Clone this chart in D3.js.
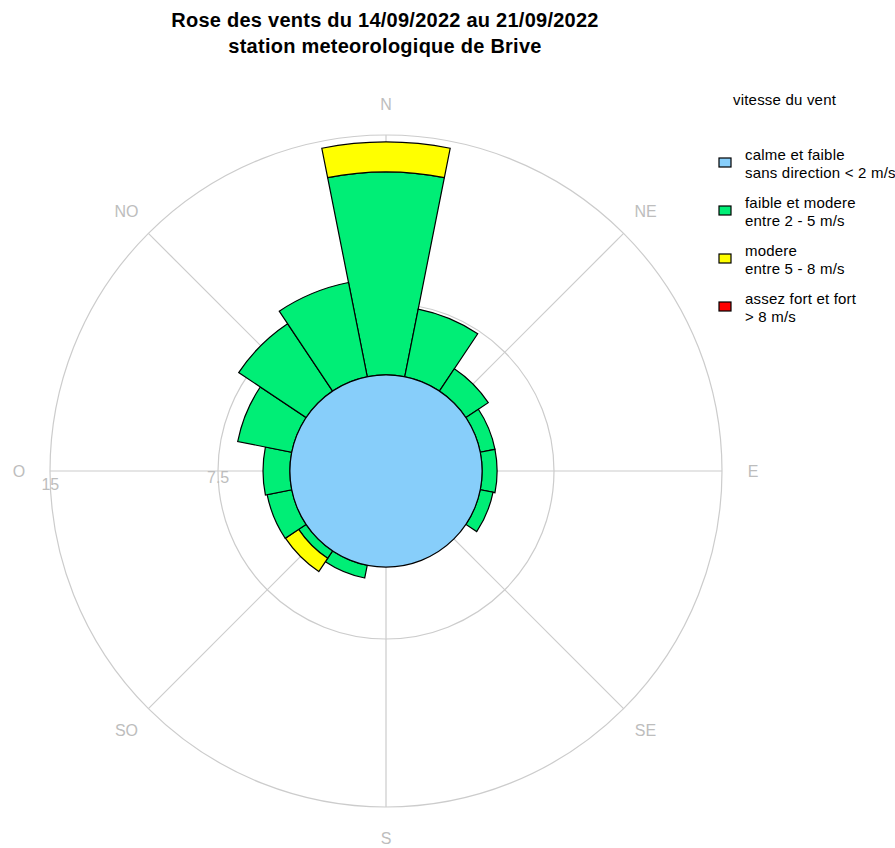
<!DOCTYPE html>
<html>
<head>
<meta charset="utf-8">
<script src="https://cdn.jsdelivr.net/npm/d3@7"></script>
<style>
  html, body { margin: 0; padding: 0; background: #fff; }
  svg { display: block; font-family: "Liberation Sans", Arial, sans-serif; }
</style>
</head>
<body>
<svg id="chart" width="895" height="848"></svg>
<script>
// ---- data (percent of observations) ----
const directions = ["N","NNE","NE","ENE","E","ESE","SE","SSE","S","SSW","SW","WSW","W","WNW","NW","NNW"];
const calmValue = 4.29;
const greenValues  = [9.06, 3.08, 1.20, 0.67, 0.67, 0.58, 0, 0, 0, 0.58, 0.40, 1.12, 1.20, 2.46, 3.62, 4.29];
const yellowValues = [1.34, 0, 0, 0, 0, 0, 0, 0, 0, 0, 0.71, 0, 0, 0, 0, 0];
const redValues    = [0, 0, 0, 0, 0, 0, 0, 0, 0, 0, 0, 0, 0, 0, 0, 0];
const gridTicks = [7.5, 15];
const gridTickLabels = ["7.5", "15"];
const compassLabels = ["N","NE","E","SE","S","SO","O","NO"];
const titleLines = ["Rose des vents du 14/09/2022 au 21/09/2022", "station meteorologique de Brive"];
const legendTitle = "vitesse du vent";
const legendLabels = [
  ["calme et faible", "sans direction < 2 m/s"],
  ["faible et modere", "entre 2 - 5 m/s"],
  ["modere", "entre 5 - 8 m/s"],
  ["assez fort et fort", "> 8 m/s"]
];
const classColors = ["#87CEFA", "#00EE76", "#FFFF00", "#FF0000"];

// ---- layout ----
const svg = d3.select("#chart");
const cx = 386, cy = 471;
const rScale = d3.scaleLinear().domain([0, 15]).range([0, 336]);
const gridColor = "#cccccc";
const labelColor = "#bdbdbd";
const g = svg.append("g").attr("transform", `translate(${cx},${cy})`);

// title
svg.append("g").selectAll("text").data(titleLines).join("text")
  .attr("x", 385).attr("y", (d, i) => 27 + i * 26)
  .attr("text-anchor", "middle")
  .attr("font-size", 20).attr("font-weight", "bold").attr("fill", "#000")
  .attr("letter-spacing", 0.25)
  .text(d => d);

// grid circles
g.append("g").selectAll("circle").data(gridTicks).join("circle")
  .attr("r", d => rScale(d)).attr("fill", "none")
  .attr("stroke", gridColor).attr("stroke-width", 1.2);

// spokes
const spokeAngles = d3.range(8).map(i => i * 45);
g.append("g").selectAll("line").data(spokeAngles).join("line")
  .attr("x1", 0).attr("y1", 0)
  .attr("x2", d => rScale(15) * Math.sin(d * Math.PI / 180))
  .attr("y2", d => -rScale(15) * Math.cos(d * Math.PI / 180))
  .attr("stroke", gridColor).attr("stroke-width", 1.2);

// compass labels
g.append("g").selectAll("text").data(compassLabels).join("text")
  .attr("x", (d, i) => 367 * Math.sin(i * 45 * Math.PI / 180))
  .attr("y", (d, i) => -367 * Math.cos(i * 45 * Math.PI / 180))
  .attr("text-anchor", "middle").attr("dominant-baseline", "central")
  .attr("font-size", 16).attr("fill", labelColor)
  .text(d => d);

// grid tick labels (slightly below west spoke)
const tickAng = 267.7 * Math.PI / 180;
g.append("g").selectAll("text").data(gridTicks).join("text")
  .attr("x", d => rScale(d) * Math.sin(tickAng))
  .attr("y", d => -rScale(d) * Math.cos(tickAng))
  .attr("text-anchor", "middle").attr("dominant-baseline", "central")
  .attr("font-size", 16).attr("fill", labelColor)
  .text((d, i) => gridTickLabels[i]);

// stacked bars
const step = 2 * Math.PI / directions.length;
const segments = [];
directions.forEach((dir, i) => {
  let base = calmValue;
  [greenValues[i], yellowValues[i], redValues[i]].forEach((v, k) => {
    if (v > 0) {
      segments.push({dir, i, inner: base, outer: base + v, color: classColors[k + 1]});
    }
    base += v;
  });
});
const arc = d3.arc()
  .innerRadius(d => rScale(d.inner))
  .outerRadius(d => rScale(d.outer))
  .startAngle(d => d.i * step - step / 2)
  .endAngle(d => d.i * step + step / 2);
g.append("g").selectAll("path").data(segments).join("path")
  .attr("d", arc).attr("fill", d => d.color)
  .attr("stroke", "#000").attr("stroke-width", 1.2).attr("stroke-linejoin", "miter");

// calm circle
g.append("circle").attr("r", rScale(calmValue))
  .attr("fill", classColors[0]).attr("stroke", "#000").attr("stroke-width", 1.2);

// legend
const lg = svg.append("g");
lg.append("text").attr("x", 733).attr("y", 105).attr("font-size", 15)
  .attr("letter-spacing", 0.2).attr("fill", "#000").text(legendTitle);
const items = lg.selectAll("g.item").data(legendLabels).join("g").attr("class", "item")
  .attr("transform", (d, i) => `translate(719, ${158 + i * 48})`);
items.append("rect").attr("x", 0).attr("y", 0).attr("width", 12).attr("height", 9)
  .attr("fill", (d, i) => classColors[i]).attr("stroke", "#000").attr("stroke-width", 1.2);
items.selectAll("text").data(d => d).join("text")
  .attr("x", 26).attr("y", (d, j) => 2 + j * 18)
  .attr("font-size", 15).attr("letter-spacing", 0.2).attr("fill", "#000")
  .text(d => d);
</script>
</body>
</html>
